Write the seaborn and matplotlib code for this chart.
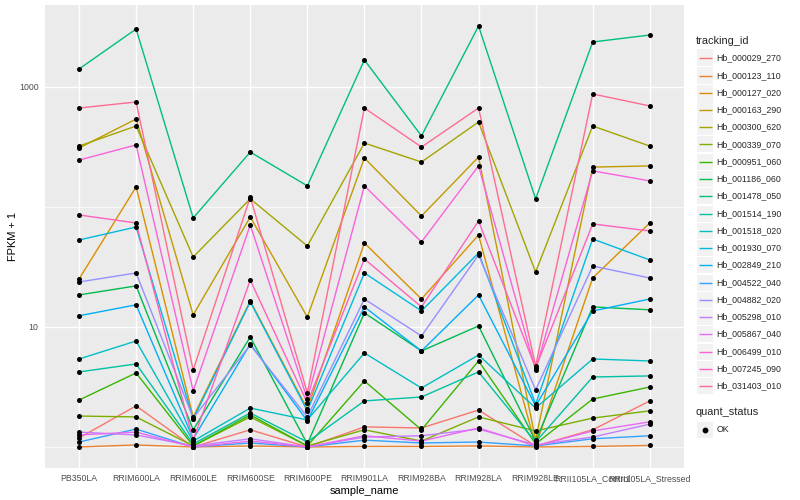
import matplotlib
matplotlib.use("Agg")
import matplotlib.pyplot as plt
from matplotlib.lines import Line2D
from matplotlib.patches import Rectangle
import seaborn as sns
import pandas as pd

samples = ["PB350LA", "RRIM600LA", "RRIM600LE", "RRIM600SE", "RRIM600PE", "RRIM901LA",
           "RRIM928BA", "RRIM928LA", "RRIM928LE", "RRII105LA_Control", "RRII105LA_Stressed"]

tracking_ids = ["Hb_000029_270", "Hb_000123_110", "Hb_000127_020", "Hb_000163_290",
                "Hb_000300_620", "Hb_000339_070", "Hb_000951_060", "Hb_001186_060",
                "Hb_001478_050", "Hb_001514_190", "Hb_001518_020", "Hb_001930_070",
                "Hb_002849_210", "Hb_004522_040", "Hb_004882_020", "Hb_005298_010",
                "Hb_005867_040", "Hb_006499_010", "Hb_007245_090", "Hb_031403_010"]

# FPKM + 1 per sample (order of `samples`)
hb_000029_270 = [1.19, 2.20, 1.00, 1.39, 1.00, 1.47, 1.44, 2.03, 1.02, 1.39, 2.42]
hb_000123_110 = [1.00, 1.04, 1.00, 1.02, 1.00, 1.01, 1.01, 1.02, 1.00, 1.01, 1.03]
hb_000127_020 = [25.1, 147, 1.78, 16.5, 2.07, 50.1, 17.1, 58.4, 1.02, 25.6, 73.6]
hb_000163_290 = [310, 541, 12.6, 82.5, 12.1, 256, 84.1, 261, 1.14, 215, 220]
hb_000300_620 = [322, 473, 38.3, 117, 47.3, 341, 237, 511, 28.7, 473, 322]
hb_000339_070 = [1.81, 1.78, 1.02, 1.78, 1.02, 1.39, 1.12, 1.78, 1.36, 1.74, 2.00]
hb_000951_060 = [2.46, 4.14, 1.02, 1.85, 1.02, 3.55, 1.39, 5.21, 1.06, 2.51, 3.16]
hb_001186_060 = [18.5, 22.0, 1.39, 8.25, 1.06, 13.1, 6.31, 10.2, 1.12, 14.7, 13.9]
hb_001478_050 = [1413, 3043, 81.0, 287, 150, 1679, 391, 3221, 117, 2371, 2712]
hb_001514_190 = [4.22, 4.92, 1.06, 1.92, 1.10, 2.42, 2.61, 4.22, 1.10, 3.83, 3.91]
hb_001518_020 = [5.41, 7.64, 1.12, 2.11, 1.68, 6.07, 3.10, 5.84, 2.11, 5.41, 5.21]
hb_001930_070 = [53.1, 68.1, 1.71, 16.2, 2.00, 28.2, 13.6, 41.4, 2.28, 54.1, 36.2]
hb_002849_210 = [12.4, 15.3, 1.17, 7.22, 1.65, 14.7, 6.31, 18.5, 2.20, 13.6, 17.1]
hb_004522_040 = [1.10, 1.41, 1.00, 1.08, 1.00, 1.14, 1.08, 1.10, 1.02, 1.17, 1.24]
hb_004882_020 = [23.7, 28.2, 1.74, 7.08, 1.78, 17.1, 8.41, 39.8, 2.99, 32.2, 25.6]
hb_005298_010 = [1.33, 1.26, 1.02, 1.17, 1.00, 1.21, 1.24, 1.41, 1.04, 1.21, 1.55]
hb_005867_040 = [1.26, 1.33, 1.00, 1.12, 1.00, 1.24, 1.12, 1.44, 1.02, 1.36, 1.62]
hb_006499_010 = [246, 329, 2.93, 70.8, 2.51, 150, 51.1, 220, 4.38, 200, 165]
hb_007245_090 = [85.8, 73.6, 1.14, 24.6, 2.33, 36.9, 14.7, 76.4, 4.55, 72.2, 63.1]
hb_031403_010 = [668, 750, 4.38, 121, 2.82, 668, 316, 668, 4.73, 875, 695]

series = [hb_000029_270, hb_000123_110, hb_000127_020, hb_000163_290, hb_000300_620,
          hb_000339_070, hb_000951_060, hb_001186_060, hb_001478_050, hb_001514_190,
          hb_001518_020, hb_001930_070, hb_002849_210, hb_004522_040, hb_004882_020,
          hb_005298_010, hb_005867_040, hb_006499_010, hb_007245_090, hb_031403_010]

palette = ["#F8766D", "#EA8331", "#D89000", "#C09B00", "#A3A500", "#7CAE00", "#39B600",
           "#00BB4E", "#00BF7D", "#00C1A3", "#00BFC4", "#00BAE0", "#00B0F6", "#35A2FF",
           "#9590FF", "#C77CFF", "#E76BF3", "#FA62DB", "#FF62BC", "#FF6C91"]

rows = []
for tid, vals in zip(tracking_ids, series):
    for s, v in zip(samples, vals):
        rows.append({"tracking_id": tid, "sample_name": s, "fpkm1": v, "quant_status": "OK"})
df = pd.DataFrame(rows)
df["sample_name"] = pd.Categorical(df["sample_name"], categories=samples, ordered=True)
df["xpos"] = df["sample_name"].cat.codes

sns.set_theme(style="darkgrid")
plt.rcParams["font.family"] = ["Liberation Sans", "DejaVu Sans"]

W, H = 800, 500
fig = plt.figure(figsize=(8, 5), dpi=100)
ax = fig.add_axes([0.056, 0.064, 0.799, 0.926])
ax.set_facecolor("#EBEBEB")

sns.lineplot(data=df, x="xpos", y="fpkm1", hue="tracking_id", hue_order=tracking_ids,
             palette=palette, sort=False, linewidth=1.0, legend=False, ax=ax,
             estimator=None, units="tracking_id")
sns.scatterplot(data=df, x="xpos", y="fpkm1", color="black", s=13, marker="o",
                linewidth=0, legend=False, ax=ax, zorder=5)

ax.set_yscale("log")
ax.set_ylim(0.668, 4823)
ax.set_xlim(-0.6, len(samples) - 0.4)
ax.set_yticks([10, 1000])
ax.set_yticklabels(["10", "1000"])
ax.set_yticks([1, 100], minor=True)
ax.yaxis.set_minor_formatter(matplotlib.ticker.NullFormatter())
ax.set_xticks(range(len(samples)))
ax.set_xticklabels(samples)

ax.grid(which="major", color="white", linewidth=1.0)
ax.grid(which="minor", axis="y", color="white", linewidth=0.5)
ax.tick_params(axis="both", which="major", length=2.5, width=0.6, color="#333333",
               labelsize=6.3, labelcolor="#4D4D4D", pad=2)
ax.tick_params(axis="y", which="minor", length=0)
for sp in ax.spines.values():
    sp.set_visible(False)

ax.set_xlabel("sample_name", fontsize=7.9, color="black", labelpad=2)
ax.set_ylabel("FPKM + 1", fontsize=7.9, color="black", labelpad=1)

# ---- ggplot-style legends (keys with grey backgrounds) ----
tf = fig.transFigure
def fx(px):
    return px / W
def fy(py):
    return 1 - py / H

key_left, key_w, key_h, text_x = 697.0, 16.0, 16.0, 716.5
title_x = 696.0
fig.text(fx(title_x), fy(40.7), "tracking_id", fontsize=7.9, va="center", ha="left")
row0, drow = 57.3, 17.26
for i, (tid, c) in enumerate(zip(tracking_ids, palette)):
    yc = round(row0 + i * drow) + 0.5
    fig.add_artist(Rectangle((fx(key_left), fy(yc + key_h / 2)), key_w / W, key_h / H,
                             transform=tf, facecolor="#F2F2F2", edgecolor="none", zorder=1))
    fig.add_artist(Line2D([fx(key_left + 1.5), fx(key_left + key_w - 1.5)], [fy(yc), fy(yc)],
                          transform=tf, color=c, lw=1.0, zorder=3, solid_capstyle="butt"))
    fig.text(fx(text_x), fy(yc), tid, fontsize=6.3, va="center", ha="left")

fig.text(fx(title_x), fy(412.3), "quant_status", fontsize=7.9, va="center", ha="left")
yc = 429.5
fig.add_artist(Rectangle((fx(key_left), fy(yc + key_h / 2)), key_w / W, key_h / H,
                         transform=tf, facecolor="#F2F2F2", edgecolor="none", zorder=1))
fig.add_artist(Line2D([fx(key_left + key_w / 2)], [fy(yc)], transform=tf, color="black",
                      marker="o", markersize=3.2, lw=0, zorder=3))
fig.text(fx(text_x), fy(yc), "OK", fontsize=6.3, va="center", ha="left")

fig.savefig("out.png", dpi=100)
